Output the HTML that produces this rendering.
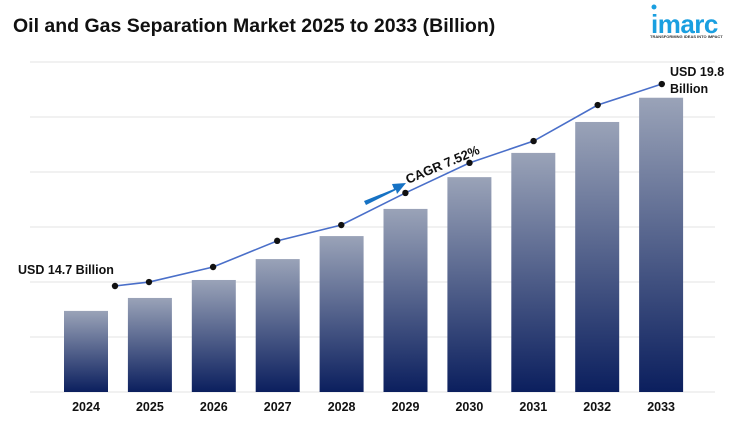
<!DOCTYPE html>
<html><head><meta charset="utf-8"><style>
body{margin:0;background:#fff;width:750px;height:418px;overflow:hidden;font-family:"Liberation Sans",sans-serif}
</style></head><body>
<svg width="750" height="418" viewBox="0 0 750 418">
<defs><linearGradient id="g" x1="0" y1="0" x2="0" y2="1"><stop offset="0" stop-color="#9aa3b8"/><stop offset="1" stop-color="#0b1f5e"/></linearGradient></defs>
<text x="13" y="32" font-size="19.5" font-weight="bold" fill="#111">Oil and Gas Separation Market 2025 to 2033 (Billion)</text>
<g>
<circle cx="654" cy="7" r="2.5" fill="#1a9fe0"/>
<text x="651" y="33" font-size="26" font-weight="bold" fill="#1a9fe0" letter-spacing="-0.5">imarc</text>
<text x="650" y="38" font-size="4" font-weight="bold" fill="#333">TRANSFORMING IDEAS INTO IMPACT</text>
</g>
<g id="grid"></g><g id="bars"></g><g id="line"></g><g id="xl"></g>
<text x="18" y="274" font-size="12.5" font-weight="bold" fill="#111">USD 14.7 Billion</text>
<text x="670" y="76" font-size="12.5" font-weight="bold" fill="#111"><tspan x="670">USD 19.8</tspan><tspan x="670" dy="17">Billion</tspan></text>
<polygon points="364,201 394,189 392,184 406,183 397,194 396,190 366,205" fill="#1672c4"/>
<text x="408" y="184" font-size="13" font-weight="bold" fill="#111" transform="rotate(-23 408 184)">CAGR 7.52%</text>
</svg>
<script>
const years=["2024","2025","2026","2027","2028","2029","2030","2031","2032","2033"];
const barValues=[14.7,15.01,15.44,15.94,16.49,17.14,17.9,18.48,19.22,19.8];
const lineValues=[14.7,14.8,15.18,15.84,16.24,17.05,17.81,18.36,19.27,19.8];
const NS="http://www.w3.org/2000/svg";
function mk(t,a,p){const e=document.createElementNS(NS,t);for(const k in a)e.setAttribute(k,a[k]);p.appendChild(e);return e;}
const barX=i=>86+i*63.9;
const barY=v=>392-(v-12.76)*41.8;
const lineX=i=>i===0?115:149+(i-1)*64.1;
const lineY=v=>286-(v-14.7)*39.6;
const grid=document.getElementById('grid');
for(let k=0;k<7;k++){const l=mk('line',{x1:30,x2:715,y1:62+k*55,y2:62+k*55,stroke:'#e3e3e3','stroke-width':1},grid);

}
const bars=document.getElementById('bars'),xl=document.getElementById('xl');
years.forEach((y,i)=>{const top=barY(barValues[i]);
const r=mk('rect',{x:barX(i)-22,y:top,width:44,height:392-top,fill:'url(#g)'},bars);


const t=mk('text',{x:barX(i),y:411,'text-anchor':'middle','font-size':12.5,'font-weight':'bold',fill:'#111'},xl);t.textContent=y;

});
const lg=document.getElementById('line');
const pl=mk('polyline',{points:lineValues.map((v,i)=>lineX(i)+','+lineY(v)).join(' '),fill:'none',stroke:'#4a6fc9','stroke-width':1.6},lg);


lineValues.forEach((v,i)=>{const c=mk('circle',{cx:lineX(i),cy:lineY(v),r:3.2,fill:'#111'},lg);

});
</script>
</body></html>
